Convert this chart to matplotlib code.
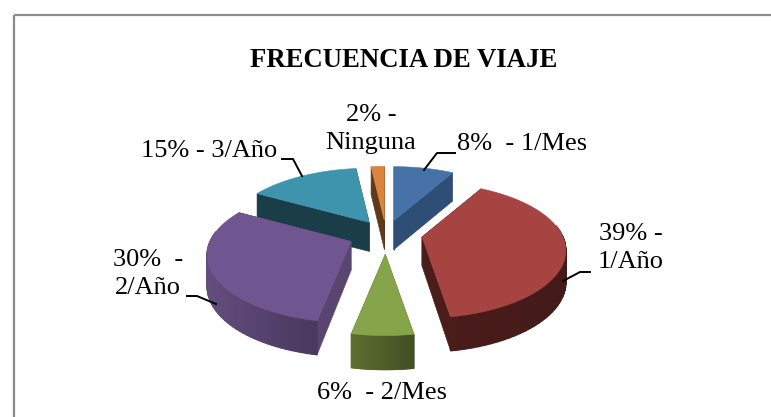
import numpy as np
import matplotlib
matplotlib.use("Agg")
import matplotlib.pyplot as plt
from matplotlib.colors import to_rgb

# datos del grafico
categorias = ["1/Mes", "1/Año", "2/Mes", "2/Año", "3/Año", "Ninguna"]
valores = [8.2, 39.2, 5.7, 30.0, 15.1, 1.8]

color_top = ["#4672A8", "#A64442", "#86A44A", "#6F5690", "#3F94AD", "#DB843D"]
color_rad = ["#2F4E75", "#4A1C1A", "#4A5A28", "#5A4570", "#1A3D48", "#5E3A1A"]
color_arc1 = ["#2F4E75", "#4A1C1A", "#5E6E30", "#634D7E", "#1A3D48", "#5E3A1A"]
color_arc2 = ["#2F4E75", "#431A18", "#424E24", "#4A385E", "#1A3D48", "#5E3A1A"]

plt.rcParams["font.family"] = ["Liberation Serif", "DejaVu Serif"]

W, H = 771, 417
fig = plt.figure(figsize=(W / 100, H / 100), dpi=100)
ax = fig.add_axes([0, 0, 1, 1])
ax.set_xlim(0, W)
ax.set_ylim(H, 0)
ax.axis("off")

# marco
ax.plot([13.5, 13.5], [H, 15], color="#8c8c8c", lw=1.6, solid_capstyle="butt")
ax.plot([13.5, W], [15, 15], color="#8c8c8c", lw=1.6, solid_capstyle="butt")

# proyeccion del pastel
CX, CY = 386, 234
R, K, P = 141, 65, 0.2
EXPLODE = 0.25


def proy(ang, r=1.0):
    u, v = np.sin(ang), np.cos(ang)
    return r * R * u / (1 + P * v), -r * K * v / (1 + P * v)


def prof(ang):
    return 31 - 3 * np.cos(ang)


fracs = np.array(valores) / sum(valores)
limites = np.concatenate([[0], np.cumsum(fracs)]) * 2 * np.pi

rebanadas = []
for i in range(len(valores)):
    a0, a1 = limites[i], limites[i + 1]
    mid = (a0 + a1) / 2
    ox, oy = proy(mid, EXPLODE)
    ap = (CX + ox, CY + oy)
    angs = np.linspace(a0, a1, 60)
    xs = np.array([ap[0] + proy(a)[0] for a in angs])
    ys = np.array([ap[1] + proy(a)[1] for a in angs])
    rebanadas.append((i, ap, angs, xs, ys, np.cos(mid)))

rebanadas.sort(key=lambda s: -s[5])

# paredes y tapas, de atras hacia adelante
for i, ap, angs, xs, ys, _ in rebanadas:
    d_ap = 29
    for k in (0, -1):
        ax.fill([ap[0], xs[k], xs[k], ap[0]],
                [ap[1], ys[k], ys[k] + prof(angs[k]), ap[1] + d_ap],
                color=color_rad[i], lw=0.4, zorder=2)
    c1, c2 = np.array(to_rgb(color_arc1[i])), np.array(to_rgb(color_arc2[i]))
    for k in range(len(angs) - 1):
        if np.cos(angs[k]) > 0.15 and np.cos(angs[k + 1]) > 0.15:
            continue
        t = (xs[k] - xs.min()) / max(xs.max() - xs.min(), 1)
        col = c1 + (c2 - c1) * t
        ax.fill([xs[k], xs[k + 1], xs[k + 1], xs[k]],
                [ys[k], ys[k + 1], ys[k + 1] + prof(angs[k + 1]), ys[k] + prof(angs[k])],
                color=col, lw=1.0, zorder=2)
    ax.fill(np.r_[ap[0], xs], np.r_[ap[1], ys], color=color_top[i], lw=0.4, zorder=2)

# lineas guia
guias = [
    ([424, 437, 455], [170, 153, 153]),
    ([563, 580, 590], [281, 272, 272]),
    ([216, 197, 187], [304, 296, 296]),
    ([302, 293, 282], [176, 159, 159]),
]
for gx, gy in guias:
    ax.plot(gx, gy, color="black", lw=1.4, zorder=3)

# textos
ax.text(404, 60, "FRECUENCIA DE VIAJE", fontsize=19.3, fontweight="bold",
        ha="center", va="center")
FS = 19
LS = 1.4
pct = [f"{v:.0f}%" for v in valores]
ax.text(457, 144, f"{pct[0]}  - {categorias[0]}", fontsize=FS, va="center")
ax.text(631, 248, f"{pct[1]} -\n{categorias[1]}", fontsize=FS, va="center", ha="center", linespacing=LS)
ax.text(382, 393, f"{pct[2]}  - {categorias[2]}", fontsize=FS, va="center", ha="center")
ax.text(148, 274, f"{pct[3]}  -\n{categorias[3]}", fontsize=FS, va="center", ha="center", linespacing=LS)
ax.text(141, 151, f"{pct[4]} - {categorias[4]}", fontsize=FS, va="center")
ax.text(371, 129, f"{pct[5]} -\n{categorias[5]}", fontsize=FS, va="center", ha="center", linespacing=LS)

fig.savefig("out.png", dpi=100)
